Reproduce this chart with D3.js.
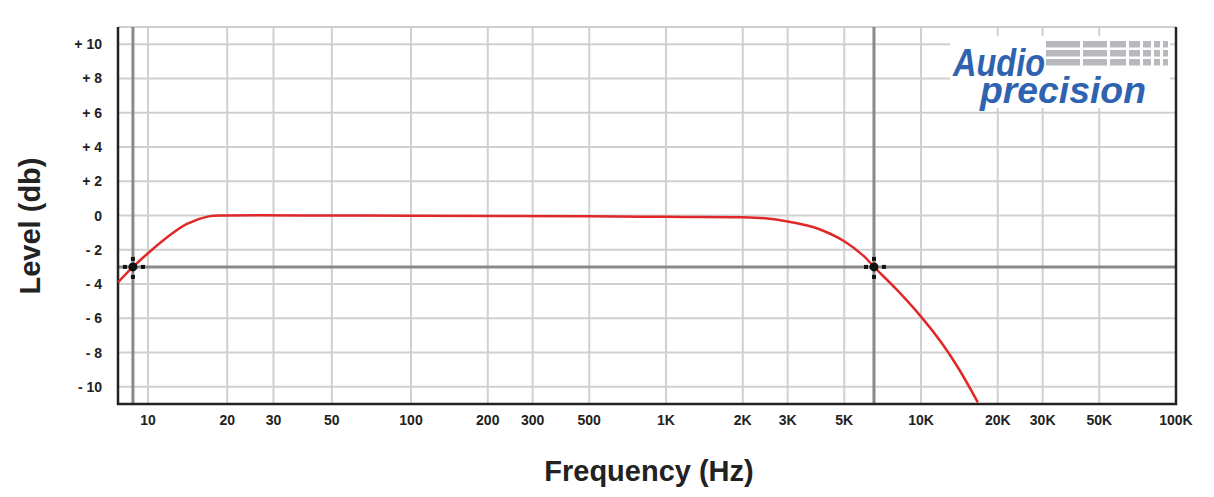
<!DOCTYPE html><html><head><meta charset="utf-8">
<script src="https://cdn.jsdelivr.net/npm/d3@7"></script>
<style>body{margin:0;background:#fff}text{font-family:"Liberation Sans",Arial,sans-serif}</style></head><body>
<svg id="c" width="1214" height="497"></svg>
<script>
const freqs=[7.7,8.77,10,12,14,17,20,50,100,500,1000,2000,2500,3000,3500,4000,5000,6000,6540,8000,10000,12000,14000,16700];
const levels=[-3.9,-3.0,-2.2,-1.2,-0.5,-0.05,0,0,-0.02,-0.05,-0.08,-0.1,-0.18,-0.35,-0.55,-0.8,-1.5,-2.4,-3.0,-4.3,-5.9,-7.4,-8.9,-10.9];
const xTicks=[10,20,30,50,100,200,300,500,1000,2000,3000,5000,10000,20000,30000,50000,100000];
const xLabels=["10","20","30","50","100","200","300","500","1K","2K","3K","5K","10K","20K","30K","50K","100K"];
const yTicks=[10,8,6,4,2,0,-2,-4,-6,-8,-10];
const yLabels=["+ 10","+ 8","+ 6","+ 4","+ 2","0","- 2","- 4","- 6","- 8","- 10"];
const markers=[{f:8.77,l:-3},{f:6540,l:-3}];
const svg=d3.select("#c");
const L=118,R=1176,T=27,B=404;
const x=d3.scaleLog().domain([7.7,10,100,100000]).range([L,148,411,1176]);
const y=d3.scaleLinear().domain([-11,11]).range([B,T]);
const g=svg.append("g");
g.selectAll(".vx").data(xTicks).join("line").attr("x1",d=>x(d)).attr("x2",d=>x(d)).attr("y1",T).attr("y2",B).attr("stroke","#d0d0d0").attr("stroke-width",2);
g.selectAll(".hy").data(yTicks).join("line").attr("x1",L).attr("x2",R).attr("y1",d=>y(d)).attr("y2",d=>y(d)).attr("stroke","#d0d0d0").attr("stroke-width",2);
g.append("line").attr("x1",L).attr("x2",R).attr("y1",T).attr("y2",T).attr("stroke","#d0d0d0").attr("stroke-width",2);
g.append("line").attr("x1",L).attr("x2",R).attr("y1",y(-3)).attr("y2",y(-3)).attr("stroke","#8a8a8a").attr("stroke-width",3);
markers.forEach(m=>g.append("line").attr("x1",x(m.f)).attr("x2",x(m.f)).attr("y1",T).attr("y2",B).attr("stroke","#8a8a8a").attr("stroke-width",3));
g.append("path").attr("d",`M${L},${T}V${B}H${R}V${T}`).attr("fill","none").attr("stroke","#222").attr("stroke-width",2.5);
// logo
const lg=svg.append("g");
lg.append("rect").attr("x",950).attr("y",36).attr("width",220).attr("height",72).attr("fill","#fff");
const bw=[34,24,16,11,8,6,5];
[0,1,2].forEach(r=>{let xx=1046;bw.forEach(w=>{lg.append("rect").attr("x",xx).attr("y",41+r*9).attr("width",w).attr("height",6.5).attr("fill","#b8b9bd");xx+=w+3;});});
lg.append("text").attr("x",953).attr("y",76).attr("font-size",38).attr("font-style","italic").attr("font-weight","bold").attr("fill","#2f63b0").attr("textLength",92).attr("lengthAdjust","spacingAndGlyphs").text("Audio");
lg.append("text").attr("x",980).attr("y",103).attr("font-size",36).attr("font-style","italic").attr("font-weight","bold").attr("fill","#2f63b0").attr("textLength",166).attr("lengthAdjust","spacingAndGlyphs").text("precision");
// curve
const pts=freqs.map((f,i)=>[f,levels[i]]);
svg.append("path").datum(pts).attr("d",d3.line().x(d=>x(d[0])).y(d=>y(d[1])).curve(d3.curveCatmullRom)).attr("fill","none").attr("stroke","#e0282a").attr("stroke-width",2.5);
markers.forEach(m=>{const cx=x(m.f),cy=y(m.l);const mg=svg.append("g");
 mg.append("circle").attr("cx",cx).attr("cy",cy).attr("r",4.5).attr("fill","#111");
 [[-11,-3],[7,-3],[-3,-11],[-3,7]].forEach(s=>mg.append("rect").attr("x",cx+s[0]+1).attr("y",cy+s[1]+1).attr("width",4).attr("height",4).attr("fill","#111"));});
svg.selectAll(".xl").data(xTicks).join("text").attr("x",d=>x(d)).attr("y",425).attr("text-anchor","middle").attr("font-size",14).attr("font-weight","bold").attr("fill","#222").text((d,i)=>xLabels[i]);
svg.selectAll(".yl").data(yTicks).join("text").attr("x",102).attr("y",d=>y(d)+5).attr("text-anchor","end").attr("font-size",14).attr("font-weight","bold").attr("fill","#222").text((d,i)=>yLabels[i]);
svg.append("text").attr("x",649).attr("y",481).attr("text-anchor","middle").attr("font-size",29).attr("font-weight","bold").attr("fill","#222").text("Frequency (Hz)");
svg.append("text").attr("transform","translate(40,226) rotate(-90)").attr("text-anchor","middle").attr("font-size",29).attr("font-weight","bold").attr("fill","#222").text("Level (db)");
</script></body></html>
